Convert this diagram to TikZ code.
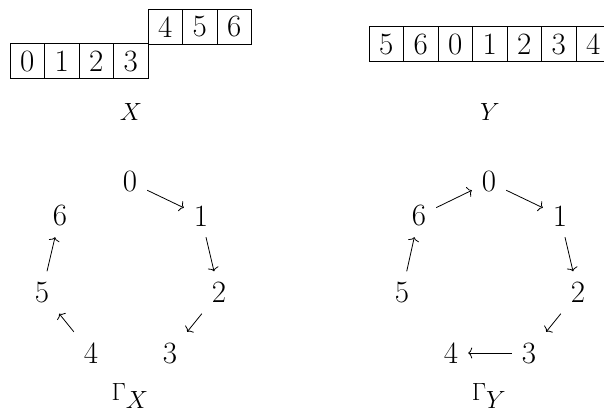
\documentclass[tikz,border=0pt]{standalone}
\usetikzlibrary{arrows.meta}
\begin{document}
\begin{tikzpicture}[x=1pt,y=-1pt,
  every node/.style={font=\fontsize{31}{36}\selectfont},
  cell/.style={draw,line width=0.8pt,minimum width=34.5pt,minimum height=35pt,inner sep=0pt},
  vtx/.style={minimum width=34pt,minimum height=42pt,inner sep=0pt},
  arr/.style={line width=0.8pt,-{To[length=4pt,width=11pt]}},
  lbl/.style={inner sep=0pt,font=\fontsize{33}{38}\selectfont}]
\useasboundingbox (0,0) rectangle (604,414);
% X array
\node[cell] (xa0) at (27.3,61.3) {0};
\node[cell] (xa1) at (61.8,61.3) {1};
\node[cell] (xa2) at (96.3,61.3) {2};
\node[cell] (xa3) at (130.8,61.3) {3};
\node[cell] (xa4) at (165.3,26.7) {4};
\node[cell] (xa5) at (199.8,26.7) {5};
\node[cell] (xa6) at (234.3,26.7) {6};
\node[lbl] (xlab) at (131,112) {$X$};
% Y array
\node[cell] (ya5) at (386.3,44.2) {5};
\node[cell] (ya6) at (420.8,44.2) {6};
\node[cell] (ya0) at (455.3,44.2) {0};
\node[cell] (ya1) at (489.8,44.2) {1};
\node[cell] (ya2) at (524.3,44.2) {2};
\node[cell] (ya3) at (558.8,44.2) {3};
\node[cell] (ya4) at (593.3,44.2) {4};
\node[lbl] (ylab) at (490,112) {$Y$};
% Gamma X
\node[vtx] (gx0) at (130,182) {0};
\node[vtx] (gx1) at (201,216) {1};
\node[vtx] (gx2) at (219,292.5) {2};
\node[vtx] (gx3) at (170,353) {3};
\node[vtx] (gx4) at (91,353) {4};
\node[vtx] (gx5) at (42,292.5) {5};
\node[vtx] (gx6) at (60,216) {6};
\node[lbl,anchor=base] (gxlab) at (130,400) {$\Gamma_X$};
\draw[arr] (gx0) -- (gx1);
\draw[arr] (gx1) -- (gx2);
\draw[arr] (gx2) -- (gx3);
\draw[arr] (gx4) -- (gx5);
\draw[arr] (gx5) -- (gx6);
% Gamma Y
\node[vtx] (gy0) at (489,182) {0};
\node[vtx] (gy1) at (560,216) {1};
\node[vtx] (gy2) at (578,292.5) {2};
\node[vtx] (gy3) at (529,353) {3};
\node[vtx] (gy4) at (451,353) {4};
\node[vtx] (gy5) at (402,292.5) {5};
\node[vtx] (gy6) at (419,216) {6};
\node[lbl,anchor=base] (gylab) at (489,400) {$\Gamma_Y$};
\draw[arr] (gy6) -- (gy0);
\draw[arr] (gy0) -- (gy1);
\draw[arr] (gy1) -- (gy2);
\draw[arr] (gy2) -- (gy3);
\draw[arr] (gy3) -- (gy4);
\draw[arr] (gy5) -- (gy6);
\end{tikzpicture}
\end{document}
